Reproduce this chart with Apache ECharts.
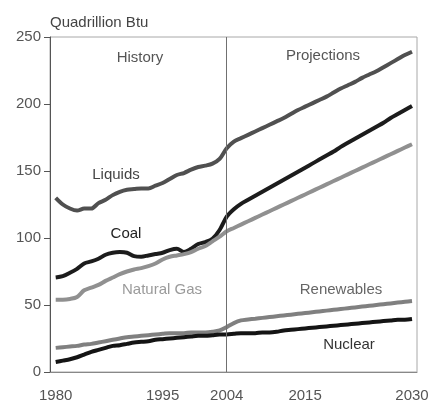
<!DOCTYPE html>
<html>
<head>
<meta charset="utf-8">
<script src="https://cdn.jsdelivr.net/npm/echarts@6/dist/echarts.min.js"></script>
<style>
html,body{margin:0;padding:0;background:#fff;}
#chart{width:432px;height:403px;}
</style>
</head>
<body>
<div id="chart"></div>
<script>
const years = [];
for (let y = 1980; y <= 2030; y++) years.push(y);

const xTickLabels = [1980, 1995, 2004, 2015, 2030];
const yTicks = [0, 50, 100, 150, 200, 250];
const unitLabel = 'Quadrillion Btu';
const periodLabels = ['History', 'Projections'];
const dividerYear = 2004;

const liquids = [
  130, 125, 122, 120.5, 122, 122, 126, 128.5, 132, 134.5,
  136, 136.5, 137, 137, 139, 141, 144, 147, 148.5, 151,
  153, 154, 155.5, 159, 167, 172, 174.5, 177, 179.5, 182,
  184.5, 187, 189.5, 192.5, 195.5, 198, 200.5, 203, 205.5, 208.5,
  211.5, 214, 216.5, 219.5, 222, 224.5, 227.5, 230.5, 233.5, 236.5, 239
];
const coal = [
  70.5, 71.5, 74, 77, 81, 82.5, 84.5, 87.5, 89, 89.5,
  89, 86.5, 86, 87, 88, 89, 91, 92, 89.5, 92,
  95.5, 97, 99.5, 106, 116, 121.5, 125.5, 128.5, 131.5, 134.5,
  137.5, 140.5, 143.5, 146.5, 149.5, 152.5, 155.5, 158.5, 161.5, 164.5,
  168, 171, 174, 177, 180, 183, 186, 189.5, 192.5, 195.5, 198.5
];
const naturalGas = [
  54, 54, 54.5, 56, 61, 63, 65, 68, 70.5, 73,
  75, 76.5, 77.5, 79, 81, 84, 86, 87, 88, 89.5,
  92, 94, 97.5, 101, 105, 107.5, 110, 112.5, 115, 117.5,
  120, 122.5, 125, 127.5, 130, 132.5, 135, 137.5, 140, 142.5,
  145, 147.5, 150, 152.5, 155, 157.5, 160, 162.5, 165, 167.5, 170
];
const renewables = [
  18, 18.5, 19, 19.5, 20.5, 21, 22, 23, 24, 25,
  26, 26.5, 27, 27.5, 28, 28.5, 29, 29, 29, 29.5,
  29.5, 29.5, 30, 31, 33.5, 36.5, 38.5, 39.2, 39.8, 40.4,
  41, 41.6, 42.2, 42.8, 43.4, 44, 44.6, 45.2, 45.8, 46.4,
  47, 47.6, 48.2, 48.8, 49.4, 50, 50.6, 51.2, 51.8, 52.4, 53
];
const nuclear = [
  7.5, 8.5, 9.5, 11, 13, 15, 16.5, 18, 19.5, 20,
  21, 22, 22.5, 23, 24, 24.5, 25, 25.5, 26, 26.5,
  27, 27, 27.5, 28, 28, 28.5, 29, 29, 29, 29.5,
  29.5, 30, 31, 31.5, 32, 32.5, 33, 33.5, 34, 34.5,
  35, 35.5, 36, 36.5, 37, 37.5, 38, 38.5, 39, 39, 39.5
];

const seriesNames = ['Liquids', 'Coal', 'Natural Gas', 'Renewables', 'Nuclear'];
const seriesValues = [liquids, coal, naturalGas, renewables, nuclear];
const seriesColors = ['#505050', '#1c1c1c', '#909090', '#808080', '#141414'];

const font = '"Liberation Sans", Arial, sans-serif';
const chart = echarts.init(document.getElementById('chart'), null, {renderer: 'canvas'});

const series = seriesNames.map((name, i) => ({
  name: name,
  type: 'line',
  data: years.map((y, j) => [y, seriesValues[i][j]]),
  showSymbol: false,
  smooth: 0.3,
  lineStyle: {color: seriesColors[i], width: 4},
  itemStyle: {color: seriesColors[i]},
  z: 3,
  animation: false
}));

series[0].markLine = {
  silent: true,
  symbol: 'none',
  label: {show: false},
  lineStyle: {color: '#707070', width: 1, type: 'solid'},
  data: [{xAxis: dividerYear}],
  animation: false
};

const textLabels = [
  {text: periodLabels[0], x: 140, y: 58, color: '#555'},
  {text: periodLabels[1], x: 323, y: 56, color: '#555'},
  {text: 'Liquids', x: 116, y: 175, color: '#444'},
  {text: 'Coal', x: 126, y: 234, color: '#222'},
  {text: 'Natural Gas', x: 162, y: 290, color: '#9a9a9a'},
  {text: 'Renewables', x: 341, y: 290, color: '#666'},
  {text: 'Nuclear', x: 349, y: 345, color: '#333'}
];

const graphics = textLabels.map(t => ({
  type: 'text',
  x: t.x, y: t.y,
  style: {text: t.text, fill: t.color, font: '15px ' + font, textAlign: 'center', textVerticalAlign: 'middle'},
  z: 10
}));
graphics.push({
  type: 'text', x: 50, y: 23,
  style: {text: unitLabel, fill: '#444', font: '15px ' + font, textAlign: 'left', textVerticalAlign: 'middle'},
  z: 10
});

chart.setOption({
  animation: false,
  backgroundColor: '#fff',
  grid: {left: 50, right: 15, top: 37, bottom: 30, show: true, borderColor: '#a8a8a8', borderWidth: 1, backgroundColor: 'transparent'},
  xAxis: {
    type: 'value',
    min: 1979.2,
    max: 2030.7,
    splitLine: {show: false},
    axisTick: {show: false},
    axisLine: {show: true, lineStyle: {color: '#888', width: 1}},
    axisLabel: {
      customValues: xTickLabels,
      formatter: v => String(v),
      color: '#555',
      fontSize: 15,
      fontFamily: font,
      margin: 16,
      showMinLabel: true,
      showMaxLabel: true
    }
  },
  yAxis: {
    type: 'value',
    min: yTicks[0],
    max: yTicks[yTicks.length - 1],
    interval: 50,
    splitLine: {show: false},
    axisLine: {show: true, lineStyle: {color: '#555', width: 1}},
    axisTick: {show: true, length: 6, lineStyle: {color: '#555'}},
    axisLabel: {color: '#555', fontSize: 15, fontFamily: font, margin: 9}
  },
  graphic: graphics,
  series: series
});
</script>
</body>
</html>
